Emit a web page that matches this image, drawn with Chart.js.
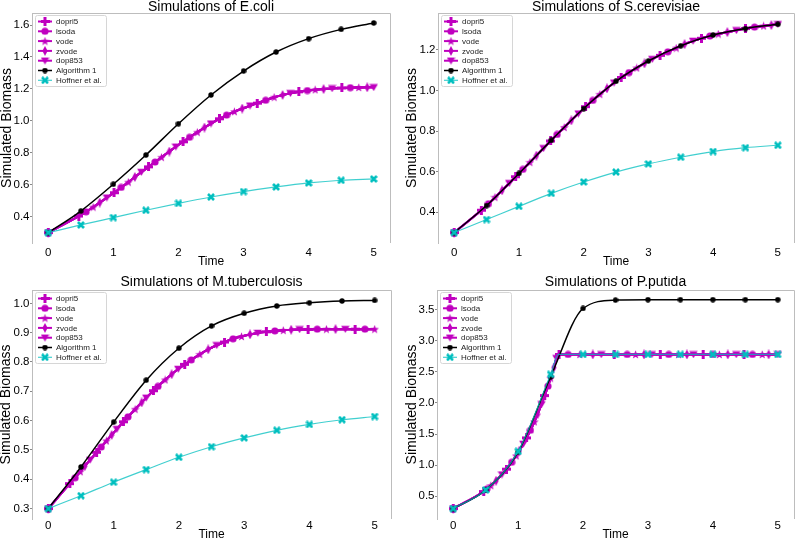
<!DOCTYPE html>
<html>
<head>
<meta charset="utf-8">
<script src="https://cdn.jsdelivr.net/npm/chart.js@4/dist/chart.umd.min.js"></script>
<style>
  html, body { margin: 0; padding: 0; background: #fff; }
  #wrap { position: relative; width: 800px; height: 542px; overflow: hidden; }
  canvas { position: absolute; }
</style>
</head>
<body>
<div id="wrap">
  <canvas id="ecoli" width="400" height="270" style="left:0;top:0"></canvas>
  <canvas id="scer" width="400" height="270" style="left:400px;top:0"></canvas>
  <canvas id="mtub" width="400" height="266" style="left:0;top:276px"></canvas>
  <canvas id="pput" width="400" height="266" style="left:400px;top:276px"></canvas>
</div>
<script>
// series names, in plotting order
const SOLVERS = ["dopri5", "lsoda", "vode", "zvode", "dop853"];
const ALG_LABEL = "Algorithm 1";
const HOF_LABEL = "Hoffner et al.";

const xTicks = [0, 1, 2, 3, 4, 5];
const stepTimes = [0, 0.5, 1, 1.5, 2, 2.5, 3, 3.5, 4, 4.5, 5];

// ---- E.coli ----
const ecoliTitle = "Simulations of E.coli";
const ecoliYTicks = [0.4, 0.6, 0.8, 1.0, 1.2, 1.4, 1.6];
const ecoliMagT = [0, 0.47, 0.58, 0.69, 0.79, 0.9, 1.01, 1.12, 1.23, 1.33, 1.43, 1.54, 1.64, 1.74, 1.86, 1.96, 2.07, 2.17, 2.29, 2.4, 2.5,
  2.63, 2.74, 2.86, 2.98, 3.1, 3.21, 3.34, 3.47, 3.6, 3.72, 3.85, 3.98, 4.1, 4.23, 4.36, 4.51, 4.64, 4.77, 4.9, 5.0];
const ecoliMagY = [0.3, 0.404, 0.43, 0.46, 0.488, 0.519, 0.55, 0.583, 0.616, 0.648, 0.679, 0.712, 0.742, 0.772, 0.808, 0.838, 0.869, 0.897, 0.929, 0.958, 0.983,
  1.013, 1.036, 1.058, 1.077, 1.095, 1.111, 1.129, 1.148, 1.162, 1.173, 1.182, 1.19, 1.195, 1.199, 1.203, 1.206, 1.208, 1.209, 1.21, 1.21];
const ecoliAlg = [0.3, 0.435, 0.603, 0.786, 0.982, 1.162, 1.312, 1.431, 1.515, 1.573, 1.613];
const ecoliHofT = stepTimes;
const ecoliHof = [0.3, 0.348, 0.394, 0.44, 0.483, 0.523, 0.557, 0.586, 0.611, 0.628, 0.636];

// ---- S.cerevisiae ----
const scerTitle = "Simulations of S.cerevisiae";
const scerYTicks = [0.4, 0.6, 0.8, 1.0, 1.2];
const scerMagT = [0, 0.42, 0.53, 0.63, 0.74, 0.85, 0.95, 1.06, 1.17, 1.27, 1.38, 1.49, 1.59, 1.7, 1.81, 1.92, 2.03, 2.14, 2.25, 2.36, 2.47,
  2.58, 2.7, 2.82, 2.94, 3.06, 3.18, 3.3, 3.43, 3.56, 3.69, 3.82, 3.95, 4.08, 4.22, 4.36, 4.5, 4.64, 4.78, 4.9, 5.0];
const scerMagY = [0.3, 0.41, 0.442, 0.474, 0.508, 0.543, 0.575, 0.611, 0.646, 0.679, 0.715, 0.751, 0.783, 0.818, 0.852, 0.886, 0.92, 0.951, 0.981, 1.01, 1.038,
  1.064, 1.088, 1.111, 1.133, 1.154, 1.173, 1.19, 1.209, 1.228, 1.244, 1.257, 1.268, 1.278, 1.287, 1.296, 1.305, 1.312, 1.318, 1.322, 1.326];
const scerAlg = [0.3, 0.433, 0.591, 0.754, 0.911, 1.045, 1.145, 1.22, 1.273, 1.305, 1.326];
const scerHofT = stepTimes;
const scerHof = [0.3, 0.364, 0.429, 0.493, 0.549, 0.598, 0.638, 0.671, 0.699, 0.718, 0.73];

// ---- M.tuberculosis ----
const mtubTitle = "Simulations of M.tuberculosis";
const mtubYTicks = [0.3, 0.4, 0.5, 0.6, 0.7, 0.8, 0.9, 1.0];
const mtubMagT = [0, 0.33, 0.41, 0.49, 0.56, 0.64, 0.74, 0.81, 0.89, 0.97, 1.05, 1.15, 1.22, 1.33, 1.43, 1.5, 1.61, 1.68, 1.79, 1.89, 1.99,
  2.09, 2.19, 2.32, 2.45, 2.58, 2.7, 2.83, 2.96, 3.09, 3.21, 3.34, 3.47, 3.6, 3.72, 3.85, 3.98, 4.12, 4.26, 4.4, 4.55, 4.7, 4.85, 5.0];
const mtubMagY = [0.3, 0.385, 0.405, 0.426, 0.445, 0.466, 0.492, 0.51, 0.531, 0.551, 0.571, 0.596, 0.613, 0.639, 0.662, 0.678, 0.702, 0.717, 0.739, 0.758, 0.776,
  0.792, 0.807, 0.826, 0.843, 0.857, 0.868, 0.879, 0.887, 0.894, 0.899, 0.903, 0.906, 0.908, 0.91, 0.911, 0.911, 0.912, 0.912, 0.912, 0.912, 0.912, 0.912, 0.912];
const mtubAlg = [0.3, 0.442, 0.595, 0.738, 0.847, 0.923, 0.966, 0.991, 1.002, 1.008, 1.01];
const mtubHofT = stepTimes;
const mtubHof = [0.3, 0.344, 0.39, 0.433, 0.475, 0.511, 0.541, 0.567, 0.587, 0.603, 0.614];

// ---- P.putida ----
const pputTitle = "Simulations of P.putida";
const pputYTicks = [0.5, 1.0, 1.5, 2.0, 2.5, 3.0, 3.5];
const pputMagT = [0, 0.47, 0.52, 0.58, 0.66, 0.75, 0.82, 0.9, 0.97, 1.02, 1.08, 1.13, 1.19, 1.25, 1.3, 1.36, 1.41, 1.46, 1.5, 1.55, 1.59, 1.63,
  1.77, 1.95, 2.15, 2.28, 2.48, 2.68, 2.81, 2.94, 3.06, 3.19, 3.32, 3.47, 3.6, 3.7, 3.85, 4.0, 4.1, 4.23, 4.36, 4.48, 4.61, 4.76, 4.86, 5.0];
const pputMagY = [0.3, 0.575, 0.617, 0.67, 0.749, 0.848, 0.935, 1.045, 1.15, 1.234, 1.341, 1.437, 1.56, 1.697, 1.819, 1.977, 2.118, 2.27, 2.4, 2.57, 2.72, 2.78,
  2.78, 2.78, 2.78, 2.78, 2.78, 2.78, 2.78, 2.78, 2.78, 2.78, 2.78, 2.78, 2.78, 2.78, 2.78, 2.78, 2.78, 2.78, 2.78, 2.78, 2.78, 2.78, 2.78, 2.78];
const pputAlg = [0.3, 0.6, 1.21, 2.42, 3.52, 3.655, 3.662, 3.662, 3.662, 3.662, 3.662];
const pputHofT = [0, 0.5, 1, 1.5, 1.62, 2, 2.5, 3, 3.5, 4, 4.5, 5];
const pputHof = [0.3, 0.6, 1.22, 2.46, 2.78, 2.78, 2.78, 2.78, 2.78, 2.78, 2.78, 2.78];

const MAGENTA = "#bf00bf";
const CYAN = "#00bfbf";
const FONT = "'Liberation Sans', Arial, sans-serif";

// ---------- marker images ----------
function mk(w, h, draw) {
  const c = document.createElement("canvas");
  c.width = w; c.height = h;
  const g = c.getContext("2d");
  draw(g, w, h);
  return c;
}
function poly(g, pts, color) {
  g.fillStyle = color;
  g.beginPath();
  pts.forEach((p, i) => (i ? g.lineTo(p[0], p[1]) : g.moveTo(p[0], p[1])));
  g.closePath();
  g.fill();
}
const markers = {
  plus: mk(9, 9, (g) => { g.fillStyle = MAGENTA; g.fillRect(0, 3, 9, 3); g.fillRect(3, 0, 3, 9); }),
  circle: mk(8, 8, (g) => { g.fillStyle = MAGENTA; g.beginPath(); g.arc(4, 4, 3.6, 0, Math.PI * 2); g.fill(); }),
  star: mk(9, 9, (g) => {
    const pts = [];
    for (let i = 0; i < 10; i++) {
      const r = i % 2 ? 1.9 : 4.5;
      const a = -Math.PI / 2 + i * Math.PI / 5;
      pts.push([4.5 + r * Math.cos(a), 4.8 + r * Math.sin(a)]);
    }
    poly(g, pts, MAGENTA);
  }),
  thinDiamond: mk(6, 10, (g) => poly(g, [[3, 0], [5.6, 5], [3, 10], [0.4, 5]], MAGENTA)),
  triDown: mk(9, 8, (g) => poly(g, [[0.3, 0.8], [8.7, 0.8], [4.5, 7.8]], MAGENTA)),
  dot: mk(6, 6, (g) => { g.fillStyle = "#000"; g.beginPath(); g.arc(3, 3, 2.7, 0, Math.PI * 2); g.fill(); }),
  xFilled: mk(8, 8, (g) => {
    g.strokeStyle = CYAN; g.lineWidth = 2.6; g.lineCap = "butt";
    g.beginPath(); g.moveTo(1, 1); g.lineTo(7, 7); g.moveTo(7, 1); g.lineTo(1, 7); g.stroke();
  }),
};
const solverMarkers = [markers.plus, markers.circle, markers.star, markers.thinDiamond, markers.triDown];

// ---------- plugins ----------
const frame = {
  id: "frame",
  afterDraw(chart, args, o) {
    const { ctx, chartArea: a } = chart;
    ctx.save();
    // top and right spines
    ctx.strokeStyle = "#bdbdbd";
    ctx.lineWidth = 1;
    ctx.beginPath();
    ctx.moveTo(a.left, a.top + 0.5);
    ctx.lineTo(a.right + 0.5, a.top + 0.5);
    ctx.lineTo(a.right + 0.5, a.bottom);
    ctx.stroke();
    // title, centred over the plot area
    ctx.fillStyle = "#000";
    ctx.font = "14px " + FONT;
    ctx.textAlign = "center";
    ctx.textBaseline = "middle";
    ctx.fillText(o.text, (a.left + a.right) / 2, o.y);
    ctx.restore();
  },
};

const boxLegend = {
  id: "boxLegend",
  afterDatasetsDraw(chart) {
    const { ctx, chartArea: a } = chart;
    const x0 = a.left + 3, y0 = a.top + 2;
    const w = 71, rowH = 9.8, h = 71;
    ctx.save();
    ctx.fillStyle = "rgba(255,255,255,0.85)";
    ctx.strokeStyle = "#d6d6d6";
    ctx.lineWidth = 1;
    ctx.beginPath();
    ctx.roundRect(x0 + 0.5, y0 + 0.5, w, h, 2);
    ctx.fill();
    ctx.stroke();
    ctx.font = "8px " + FONT;
    ctx.textBaseline = "middle";
    chart.data.datasets.forEach((ds, i) => {
      const yy = y0 + 6.5 + i * rowH;
      ctx.strokeStyle = ds.borderColor;
      ctx.lineWidth = ds.borderWidth;
      ctx.beginPath();
      ctx.moveTo(x0 + 3, yy);
      ctx.lineTo(x0 + 17, yy);
      ctx.stroke();
      const img = ds.pointStyle;
      ctx.drawImage(img, x0 + 10 - img.width / 2, yy - img.height / 2);
      ctx.fillStyle = "#222";
      ctx.fillText(ds.label, x0 + 21, yy + 0.5);
    });
    ctx.restore();
  },
};

// ---------- panels ----------
function pts(ts, ys) {
  return ts.map((t, i) => ({ x: t, y: ys[i] }));
}

function buildPanel(id, p) {
  const datasets = [];
  SOLVERS.forEach((name, k) => {
    datasets.push({
      label: name,
      data: pts(p.magT, p.magY),
      borderColor: MAGENTA,
      borderWidth: 2,
      pointStyle: solverMarkers[k],
      pointRadius: (c) => (c.dataIndex === 0 || (c.dataIndex - 1) % 5 === k ? 4 : 0),
      cubicInterpolationMode: "monotone",
      order: 6 - k,
    });
  });
  datasets.push({
    label: ALG_LABEL,
    data: pts(stepTimes, p.alg),
    borderColor: "#000",
    borderWidth: 1.5,
    pointStyle: markers.dot,
    pointRadius: 3,
    cubicInterpolationMode: "monotone",
    order: 1,
  });
  datasets.push({
    label: HOF_LABEL,
    data: pts(p.hofT, p.hof),
    borderColor: "rgba(0,191,191,0.75)",
    borderWidth: 1.2,
    pointStyle: markers.xFilled,
    pointRadius: (c) => {
      const t = p.hofT[c.dataIndex] * 2;
      return Math.abs(t - Math.round(t)) < 1e-6 ? 4 : 0;
    },
    cubicInterpolationMode: "monotone",
    order: 0,
  });

  return new Chart(document.getElementById(id), {
    type: "line",
    data: { datasets },
    options: {
      responsive: false,
      animation: false,
      devicePixelRatio: 1,
      events: [],
      layout: { padding: { left: 0, right: p.padRight, top: p.padTop, bottom: 0 } },
      plugins: {
        legend: { display: false },
        tooltip: { enabled: false },
        title: { display: false },
        frame: { text: p.title, y: p.titleY },
      },
      scales: {
        x: {
          type: "linear",
          min: -0.25,
          max: 5.25,
          afterBuildTicks: (s) => { s.ticks = xTicks.map((v) => ({ value: v })); },
          afterFit: (s) => { s.height = p.xHeight; },
          grid: { display: false, drawTicks: false },
          border: { display: false },
          ticks: { color: "#000", padding: p.xTickPad, font: { family: FONT, size: 11.5 }, callback: (v) => String(v) },
          title: {
            display: true,
            text: "Time",
            color: "#000",
            font: { family: FONT, size: 12 },
            padding: { top: 0, bottom: p.xTitlePad },
          },
        },
        y: {
          type: "linear",
          min: p.yMin,
          max: p.yMax,
          afterBuildTicks: (s) => { s.ticks = p.yTicks.map((v) => ({ value: v })); },
          afterFit: (s) => { s.width = p.yWidth; },
          grid: { display: true, drawOnChartArea: false, tickLength: 2, color: "#888" },
          border: { display: true, color: "#bdbdbd", width: 1 },
          ticks: { color: "#000", padding: 0.5, font: { family: FONT, size: 11.5 }, callback: (v) => p.yFmt(v) },
          title: {
            display: true,
            text: "Simulated Biomass",
            color: "#000",
            font: { family: FONT, size: 14 },
            padding: { top: p.yTitlePad, bottom: 0 },
          },
        },
      },
    },
    plugins: [frame, boxLegend],
  });
}

const fmt1 = (v) => v.toFixed(1);

window.addEventListener("DOMContentLoaded", () => {
  buildPanel("ecoli", {
    title: ecoliTitle, magT: ecoliMagT, magY: ecoliMagY, alg: ecoliAlg, hofT: ecoliHofT, hof: ecoliHof,
    yTicks: ecoliYTicks, yMin: 0.235, yMax: 1.6755, yFmt: fmt1,
    padTop: 13, titleY: 7.5, padRight: 10, yWidth: 32, yTitlePad: -1.4,
    xHeight: 27, xTickPad: 3, xTitlePad: 1,
  });
  buildPanel("scer", {
    title: scerTitle, magT: scerMagT, magY: scerMagY, alg: scerAlg, hofT: scerHofT, hof: scerHof,
    yTicks: scerYTicks, yMin: 0.2485, yMax: 1.3815, yFmt: fmt1,
    padTop: 13, titleY: 7.5, padRight: 3, yWidth: 38, yTitlePad: 3.6,
    xHeight: 27, xTickPad: 3, xTitlePad: 1,
  });
  buildPanel("mtub", {
    title: mtubTitle, magT: mtubMagT, magY: mtubMagY, alg: mtubAlg, hofT: mtubHofT, hof: mtubHof,
    yTicks: mtubYTicks, yMin: 0.2645, yMax: 1.0455, yFmt: fmt1,
    padTop: 14, titleY: 6.5, padRight: 9, yWidth: 32, yTitlePad: -2,
    xHeight: 23, xTickPad: 0, xTitlePad: 0,
  });
  buildPanel("pput", {
    title: pputTitle, magT: pputMagT, magY: pputMagY, alg: pputAlg, hofT: pputHofT, hof: pputHof,
    yTicks: pputYTicks, yMin: 0.1325, yMax: 3.8175, yFmt: fmt1,
    padTop: 14, titleY: 6.5, padRight: 3, yWidth: 37, yTitlePad: 4,
    xHeight: 23, xTickPad: 0, xTitlePad: 0,
  });
});
</script>
</body>
</html>
